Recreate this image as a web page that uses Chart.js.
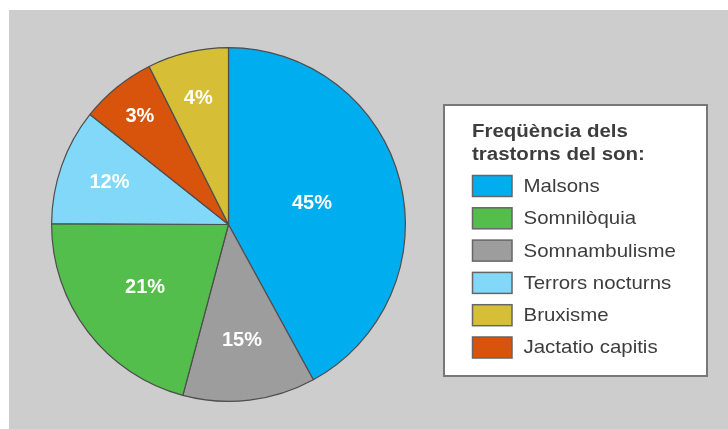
<!DOCTYPE html>
<html>
<head>
<meta charset="utf-8">
<script src="https://cdn.jsdelivr.net/npm/chart.js@4"></script>
<style>
  html, body { margin: 0; padding: 0; background: #ffffff; }
  #wrap { position: relative; width: 728px; height: 429px; overflow: hidden; }
  #bg { position: absolute; left: 9px; top: 10px; right: 0; bottom: 0; background: #cdcdcd; }
  #c { position: absolute; left: 0; top: 0; }
</style>
</head>
<body>
<div id="wrap">
  <div id="bg"></div>
  <canvas id="c" width="728" height="429"></canvas>
</div>
<script>
// Slices in drawing order (clockwise from 12 o'clock)
const categories = ['Malsons', 'Somnambulisme', 'Somniloquia', 'Terrors nocturns', 'Jactatio capitis', 'Bruxisme'];
// Share of the circle each slice occupies as drawn (percent)
const sliceShares = [42.0, 12.1, 20.9, 10.6, 6.9, 7.4];
// Percentages printed on the slices
const percentLabels = ['45%', '15%', '21%', '12%', '3%', '4%'];
const sliceColors = ['#00aeef', '#9d9d9d', '#53be4b', '#81d8f8', '#d8530b', '#d6bf36'];

// Legend
const legendTitle = ['Freqüència dels', 'trastorns del son:'];
const legendOrder = ['Malsons', 'Somniloquia', 'Somnambulisme', 'Terrors nocturns', 'Bruxisme', 'Jactatio capitis'];
const legendNames = {'Somniloquia': 'Somnilòquia'};

// style: relative label radius per slice
const labelRadius = [0.49, 0.66, 0.59, 0.71, 0.79, 0.73];

const sliceLabelPlugin = {
  id: 'sliceLabels',
  afterDatasetsDraw(chart) {
    const ctx = chart.ctx;
    const meta = chart.getDatasetMeta(0);
    ctx.save();
    ctx.fillStyle = '#ffffff';
    ctx.font = 'bold 20px "Liberation Sans", Arial, sans-serif';
    ctx.textAlign = 'center';
    ctx.textBaseline = 'middle';
    meta.data.forEach((arc, i) => {
      const p = arc.getProps(['x', 'y', 'startAngle', 'endAngle', 'outerRadius'], true);
      const mid = (p.startAngle + p.endAngle) / 2;
      const r = p.outerRadius * labelRadius[i];
      ctx.fillText(percentLabels[i], p.x + Math.cos(mid) * r - 0.5, p.y + Math.sin(mid) * r);
    });
    ctx.restore();
  }
};

const legendPlugin = {
  id: 'boxLegend',
  afterDraw(chart) {
    const ctx = chart.ctx;
    ctx.save();
    // box
    ctx.fillStyle = '#ffffff';
    ctx.fillRect(443, 104, 265, 273);
    ctx.strokeStyle = '#787878';
    ctx.lineWidth = 2;
    ctx.strokeRect(444, 105, 263, 271);
    // title
    ctx.fillStyle = '#3d3d3d';
    ctx.textAlign = 'left';
    ctx.textBaseline = 'alphabetic';
    ctx.font = 'bold 18.8px "Liberation Sans", Arial, sans-serif';
    legendTitle.forEach((line, i) => {
      ctx.save();
      ctx.translate(472, 136.7 + i * 22.8);
      ctx.scale(1.09, 1);
      ctx.fillText(line, 0, 0);
      ctx.restore();
    });
    // items
    ctx.font = '18.6px "Liberation Sans", Arial, sans-serif';
    legendOrder.forEach((name, i) => {
      const idx = categories.indexOf(name);
      const top = 175.5 + i * 32.3;
      ctx.fillStyle = sliceColors[idx];
      ctx.fillRect(472.5, top, 39.5, 21);
      ctx.strokeStyle = '#666666';
      ctx.lineWidth = 1.5;
      ctx.strokeRect(472.5, top, 39.5, 21);
      ctx.fillStyle = '#3d3d3d';
      ctx.save();
      ctx.translate(523.5, top + 16.4);
      ctx.scale(1.1, 1);
      ctx.fillText(legendNames[name] || name, 0, 0);
      ctx.restore();
    });
    ctx.restore();
  }
};

new Chart(document.getElementById('c'), {
  type: 'pie',
  data: {
    labels: categories,
    datasets: [{
      data: sliceShares,
      backgroundColor: sliceColors,
      borderColor: '#4d4d4d',
      borderWidth: 1.2
    }]
  },
  options: {
    responsive: false,
    animation: false,
    layout: { padding: { left: 51, top: 47, right: 322, bottom: 27 } },
    plugins: {
      legend: { display: false },
      tooltip: { enabled: false }
    }
  },
  plugins: [sliceLabelPlugin, legendPlugin]
});
</script>
</body>
</html>
